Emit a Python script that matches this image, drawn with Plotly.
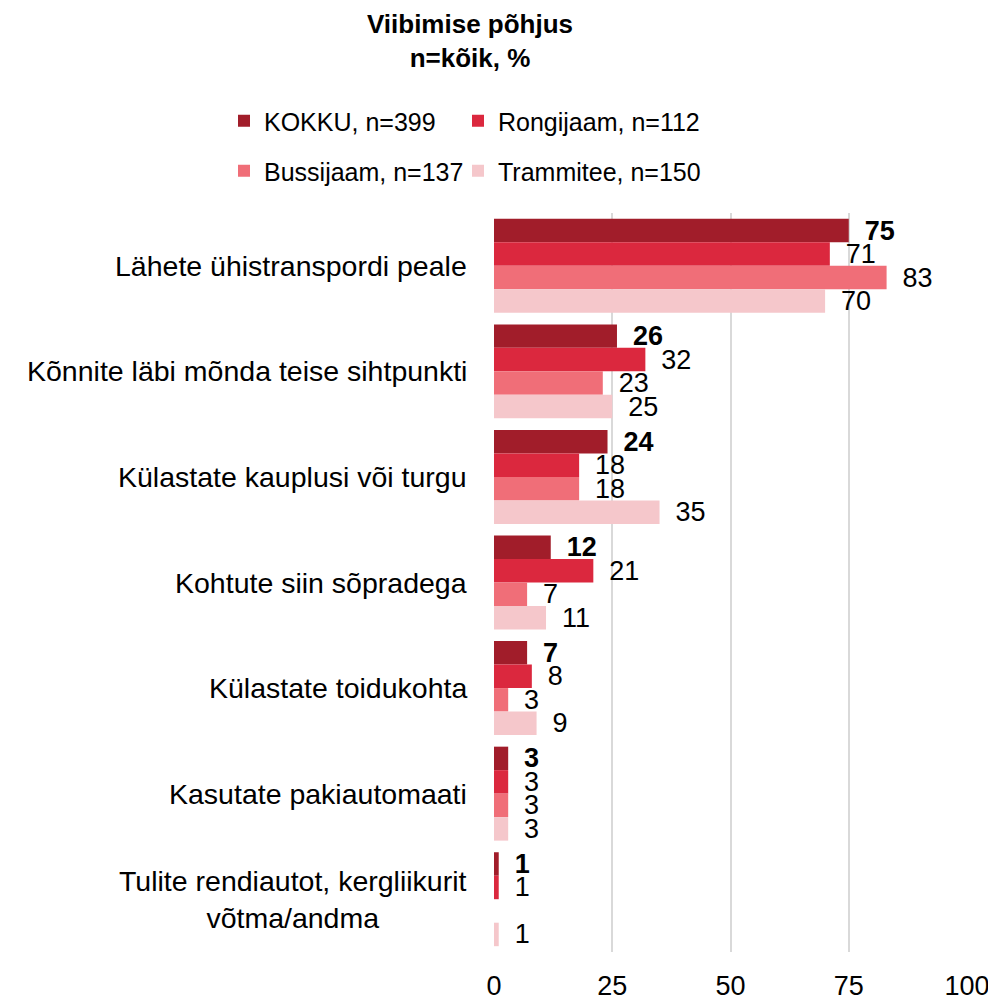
import plotly.graph_objects as go

categories = [
    "Lähete ühistranspordi peale",
    "Kõnnite läbi mõnda teise sihtpunkti",
    "Külastate kauplusi või turgu",
    "Kohtute siin sõpradega",
    "Külastate toidukohta",
    "Kasutate pakiautomaati",
    "Tulite rendiautot, kergliikurit<br>võtma/andma",
]
series_names = ["KOKKU, n=399", "Rongijaam, n=112", "Bussijaam, n=137", "Trammitee, n=150"]
kokku = [75, 26, 24, 12, 7, 3, 1]
rongijaam = [71, 32, 18, 21, 8, 3, 1]
bussijaam = [83, 23, 18, 7, 3, 3, None]
trammitee = [70, 25, 35, 11, 9, 3, 1]
colors = ["#A11D2A", "#DB283E", "#F06E78", "#F5C7CB"]
x_ticks = [0, 25, 50, 75, 100]

FONT = "Liberation Sans, Arial, sans-serif"
PAD = "\u00a0\u2009"
W, H = 988, 992  # page body has an 8px margin

fig = go.Figure()
all_series = [kokku, rongijaam, bussijaam, trammitee]
legend_ids = ["legend", "legend2", "legend3", "legend4"]
# legend anchor positions in figure px (left x, row center y)
legend_pos = [(216, 113), (450, 113), (216, 163), (450, 163)]

for i, (name, vals) in enumerate(zip(series_names, all_series)):
    if i == 0:
        texts = [PAD + f"<b>{v}</b>" if v is not None else "" for v in vals]
    else:
        texts = [PAD + f"{v}" if v is not None else "" for v in vals]
    fig.add_trace(go.Bar(
        y=categories, x=vals, name=name, orientation="h",
        marker=dict(color=colors[i], line=dict(width=0)),
        text=texts, textposition="outside", constraintext="none",
        textfont=dict(family=FONT, size=27, color="#000000"),
        cliponaxis=False, legend=legend_ids[i], hoverinfo="skip",
    ))

for c in categories:
    fig.add_annotation(
        x=-0.052, xref="paper", y=c, yref="y", text=c, showarrow=False,
        xanchor="right", yanchor="middle", align="center",
        font=dict(family=FONT, size=28.5, color="#000000"),
    )

legend_layouts = {}
for lid, (px, py) in zip(legend_ids, legend_pos):
    legend_layouts[lid] = dict(
        orientation="h", xref="container", yref="container",
        x=px / W, xanchor="left", y=1 - py / H, yanchor="middle",
        font=dict(family=FONT, size=25, color="#000000"),
        bgcolor="rgba(0,0,0,0)",
    )

fig.update_layout(
    width=W, height=H,
    margin=dict(l=486, r=29, t=205, b=48, autoexpand=False),
    paper_bgcolor="white", plot_bgcolor="white",
    barmode="group", bargap=0.11, bargroupgap=0,
    font=dict(family=FONT, size=25, color="#000000"),
    title=dict(
        text="<b>Viibimise põhjus<br>n=kõik, %</b>",
        x=462 / W, xanchor="center", xref="container",
        y=1 - 25 / H, yanchor="middle", yref="container",
        font=dict(family=FONT, size=26, color="#000000"),
    ),
    showlegend=True,
    **legend_layouts,
)
fig.update_xaxes(
    range=[0, 100], tickvals=x_ticks, ticktext=[str(t) for t in x_ticks],
    showgrid=True, gridcolor="#D9D9D9", gridwidth=2,
    zeroline=False, showline=False, automargin=False,
    ticks="outside", ticklen=10, tickcolor="rgba(0,0,0,0)",
    tickfont=dict(family=FONT, size=27, color="#000000"),
)
fig.update_yaxes(
    autorange="reversed", showticklabels=False, showgrid=False,
    zeroline=False, showline=False, automargin=False,
)

fig.write_html("out.html")
